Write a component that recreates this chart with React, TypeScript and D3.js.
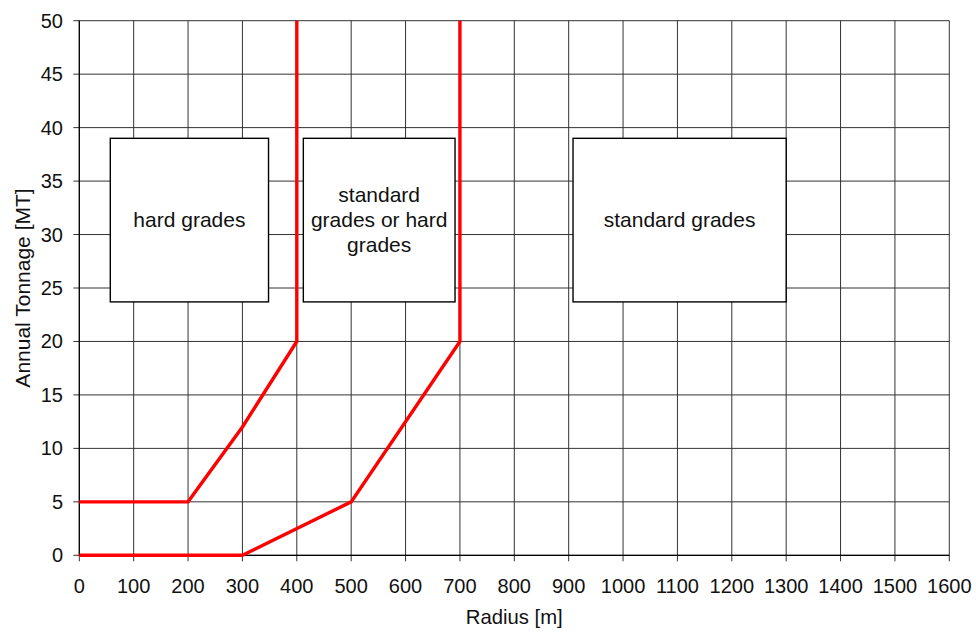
import React from "react";
import * as d3 from "d3";

const xTicks = [0, 100, 200, 300, 400, 500, 600, 700, 800, 900, 1000, 1100, 1200, 1300, 1400, 1500, 1600];
const yTicks = [0, 5, 10, 15, 20, 25, 30, 35, 40, 45, 50];

const hardLimitX = [0, 200, 300, 400, 400];
const hardLimitY = [5, 5, 12, 20, 50];
const stdLimitX = [0, 300, 500, 700, 700];
const stdLimitY = [0, 0, 5, 20, 50];

const boxLabels = [["hard grades"], ["standard", "grades or hard", "grades"], ["standard grades"]];
const boxX0 = [57, 412, 908];
const boxX1 = [348, 691, 1300];
const boxY0 = [23.7, 23.7, 23.7];
const boxY1 = [39.0, 39.0, 39.0];

const W = 976;
const H = 633;
const left = 79.3;
const right = 949.3;
const top = 20.7;
const bottom = 555.3;
const FONT = "'Liberation Sans', Arial, Helvetica, sans-serif";

export default function App() {
  const x = d3.scaleLinear().domain([0, 1600]).range([left, right]);
  const y = d3.scaleLinear().domain([0, 50]).range([bottom, top]);
  const line = d3
    .line<[number, number]>()
    .x((d) => x(d[0]))
    .y((d) => y(d[1]));
  const hardPts: [number, number][] = hardLimitX.map((v, i) => [v, hardLimitY[i]]);
  const stdPts: [number, number][] = stdLimitX.map((v, i) => [v, stdLimitY[i]]);

  return (
    <svg
      width={W}
      height={H}
      style={{ position: "absolute", left: 0, top: 0, background: "#fff" }}
      fontFamily={FONT}
    >
      <rect x={0} y={0} width={W} height={H} fill="#fff" />
      {/* grid */}
      {xTicks.map((t) => (
        <line key={"gx" + t} x1={x(t)} x2={x(t)} y1={top} y2={bottom + 6} stroke="#333" strokeWidth={1} />
      ))}
      {yTicks.map((t) => (
        <line key={"gy" + t} x1={left - 6} x2={right} y1={y(t)} y2={y(t)} stroke="#333" strokeWidth={1} />
      ))}
      {/* axes */}
      <line x1={left} x2={left} y1={top} y2={bottom} stroke="#000" strokeWidth={1.2} />
      <line x1={left} x2={right} y1={bottom} y2={bottom} stroke="#000" strokeWidth={1.2} />
      {/* tick labels */}
      {xTicks.map((t) => (
        <text key={"tx" + t} x={x(t)} y={593} textAnchor="middle" fontSize={20} fill="#111">
          {t}
        </text>
      ))}
      {yTicks.map((t) => (
        <text key={"ty" + t} x={63} y={y(t)} dy="0.35em" textAnchor="end" fontSize={20} fill="#111">
          {t}
        </text>
      ))}
      {/* axis titles */}
      <text x={(left + right) / 2} y={624} textAnchor="middle" fontSize={20.3} fill="#111">
        Radius [m]
      </text>
      <text
        transform={`translate(29.5, ${(top + bottom) / 2}) rotate(-90)`}
        textAnchor="middle"
        fontSize={21}
        fill="#111"
      >
        Annual Tonnage [MT]
      </text>
      {/* boxes */}
      {boxLabels.map((lines, i) => {
        const bx0 = x(boxX0[i]);
        const bx1 = x(boxX1[i]);
        const by0 = y(boxY1[i]);
        const by1 = y(boxY0[i]);
        const cx = (bx0 + bx1) / 2;
        const cy = (by0 + by1) / 2;
        const lh = 25;
        const firstBase = cy + 7 - ((lines.length - 1) * lh) / 2;
        return (
          <g key={"box" + i}>
            <rect x={bx0} y={by0} width={bx1 - bx0} height={by1 - by0} fill="#fff" stroke="#000" strokeWidth={1.4} />
            {lines.map((l, j) => (
              <text key={j} x={cx} y={firstBase + j * lh} textAnchor="middle" fontSize={21} fill="#111">
                {l}
              </text>
            ))}
          </g>
        );
      })}
      {/* limit lines */}
      <path d={line(hardPts) || ""} fill="none" stroke="#ff0000" strokeWidth={3.4} strokeLinejoin="miter" />
      <path d={line(stdPts) || ""} fill="none" stroke="#ff0000" strokeWidth={3.4} strokeLinejoin="miter" />
    </svg>
  );
}
